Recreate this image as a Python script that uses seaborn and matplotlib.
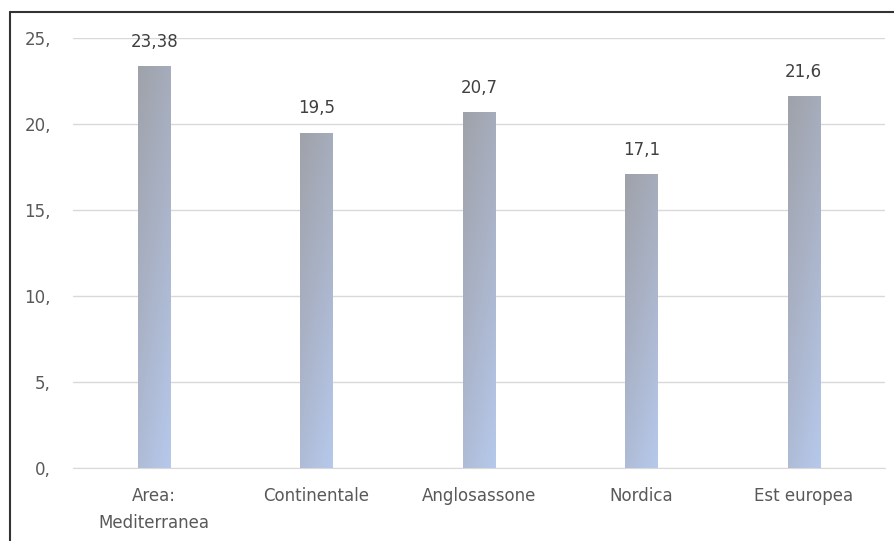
import matplotlib.pyplot as plt
import seaborn as sns
import pandas as pd
import numpy as np
from matplotlib.lines import Line2D
from matplotlib.colors import LinearSegmentedColormap

# Data
categories = ['Area:\nMediterranea', 'Continentale', 'Anglosassone', 'Nordica', 'Est europea']
values = [23.38, 19.5, 20.7, 17.1, 21.6]
value_labels = ['23,38', '19,5', '20,7', '17,1', '21,6']
yticks = [0, 5, 10, 15, 20, 25]
ytick_labels = ['0,', '5,', '10,', '15,', '20,', '25,']

df = pd.DataFrame({'Area': categories, 'Valore': values})

sns.set_style('white')
plt.rcParams['font.family'] = ['DejaVu Sans']

fig = plt.figure(figsize=(8.94, 5.41), dpi=100)
ax = fig.add_axes([73 / 894, 1 - 468 / 541, (885 - 73) / 894, (468 - 38) / 541])

sns.barplot(data=df, x='Area', y='Valore', ax=ax, width=0.2, color='#a9b4c8', zorder=2)

# Gradient fill for bars: grey at the top, light blue at the bottom, a bit bluer on the right
cmap = LinearSegmentedColormap.from_list('grad', ['#9fa2a9', '#aab3c8', '#b6c9ec'])
gx, gy = np.meshgrid(np.linspace(0, 1, 50), np.linspace(0, 1, 200))
grad = 0.3 * gx + 0.7 * (1 - gy)
for patch in ax.patches:
    x0, y0 = patch.get_x(), patch.get_y()
    w, h = patch.get_width(), patch.get_height()
    im = ax.imshow(grad, cmap=cmap, extent=[x0, x0 + w, y0, y0 + h], origin='lower',
                   aspect='auto', zorder=2, vmin=0, vmax=1)
    im.set_clip_path(patch)
    patch.set_facecolor('none')
    patch.set_edgecolor('none')
ax.set_xlim(-0.5, len(categories) - 0.5)
ax.set_ylim(0, 25)

# Value labels
for i, (v, lab) in enumerate(zip(values, value_labels)):
    ax.annotate(lab, (i, v), xytext=(0, 11), textcoords='offset points',
                ha='center', va='bottom', fontsize=12, color='#404040')

ax.set_yticks(yticks)
ax.set_yticklabels(ytick_labels)
ax.yaxis.grid(True, color='#d9d9d9', linewidth=1, zorder=0)
ax.set_axisbelow(True)
ax.tick_params(axis='y', length=0, pad=16, labelsize=12, labelcolor='#595959')
ax.tick_params(axis='x', length=0, pad=14, labelsize=12, labelcolor='#595959')
for lbl in ax.get_xticklabels():
    lbl.set_linespacing(1.6)
ax.set_xlabel('')
ax.set_ylabel('')
for s in ['top', 'right', 'left']:
    ax.spines[s].set_visible(False)
ax.spines['bottom'].set_color('#d9d9d9')

# Frame lines (top and left, like a cropped screenshot)
fx = 10 / 894
fy = 1 - 12 / 541
fig.add_artist(Line2D([fx, fx], [0, fy], color='#333333', linewidth=1.5))
fig.add_artist(Line2D([fx, 1], [fy, fy], color='#333333', linewidth=1.5))

fig.savefig('out.png', dpi=100)
